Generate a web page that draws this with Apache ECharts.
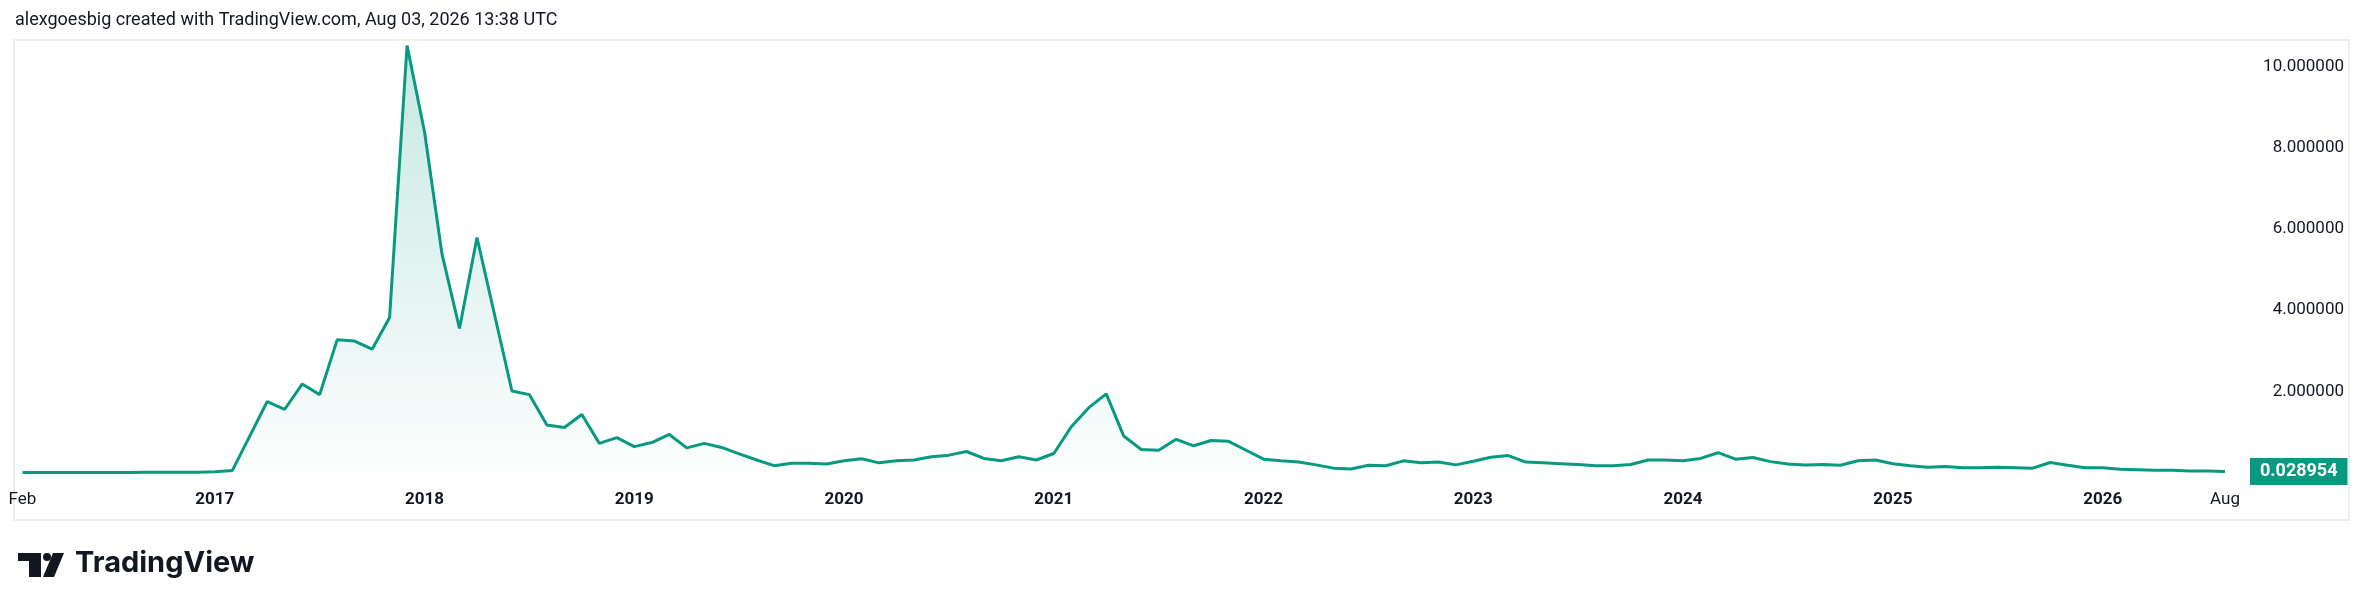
<!DOCTYPE html>
<html>
<head>
<meta charset="utf-8">
<script src="https://cdn.jsdelivr.net/npm/echarts@6/dist/echarts.min.js"></script>
<style>
html,body{margin:0;padding:0;background:#ffffff;}
#chart{width:2379px;height:611px;}
</style>
</head>
<body>
<div id="chart"></div>
<script>
// Monthly values, Feb 2016 .. Aug 2026
var values = [
  0.003, 0.003, 0.004, 0.004, 0.004, 0.005, 0.005, 0.006, 0.007, 0.008, 0.010,
  0.020, 0.05, 0.90, 1.75, 1.56, 2.18, 1.92, 3.27, 3.24, 3.04, 3.82,
  10.52, 8.39, 5.38, 3.55, 5.79, 3.90, 2.01, 1.92, 1.17, 1.11, 1.43, 0.72,
  0.86, 0.64, 0.74, 0.94, 0.61, 0.72, 0.62, 0.46, 0.31, 0.17, 0.23, 0.23,
  0.21, 0.29, 0.34, 0.24, 0.29, 0.31, 0.39, 0.43, 0.52, 0.35, 0.29, 0.39,
  0.31, 0.47, 1.13, 1.60, 1.94, 0.90, 0.57, 0.55, 0.82, 0.66, 0.79, 0.77,
  0.55, 0.33, 0.29, 0.26, 0.19, 0.11, 0.09, 0.18, 0.17, 0.29, 0.24, 0.26,
  0.19, 0.28, 0.38, 0.42, 0.26, 0.24, 0.22, 0.20, 0.17, 0.17, 0.20, 0.31,
  0.31, 0.29, 0.35, 0.49, 0.33, 0.37, 0.27, 0.21, 0.19, 0.20, 0.18, 0.29,
  0.31, 0.22, 0.17, 0.13, 0.15, 0.12, 0.12, 0.13, 0.12, 0.11, 0.25, 0.18,
  0.12, 0.12, 0.08, 0.07, 0.06, 0.06, 0.04, 0.04, 0.028954
];
var tickMonths = ['2016-02','2017-01','2018-01','2019-01','2020-01','2021-01','2022-01','2023-01','2024-01','2025-01','2026-01','2026-08'];
var tickTexts  = ['Feb','2017','2018','2019','2020','2021','2022','2023','2024','2025','2026','Aug'];
var yTicks = [2, 4, 6, 8, 10];
var titleText = 'alexgoesbig created with TradingView.com, Aug 03, 2026 13:38 UTC';

// month categories
var categories = [];
(function(){
  var y = 2016, m = 2;
  for (var i = 0; i < values.length; i++) {
    categories.push(y + '-' + (m < 10 ? '0' + m : '' + m));
    m++; if (m > 12) { m = 1; y++; }
  }
})();

var lastValue = values[values.length - 1];
var chart = echarts.init(document.getElementById('chart'), null, {renderer: 'canvas'});
var GREEN = '#089981';
var FONT = 'Roboto, "Liberation Sans", sans-serif';

var option = {
  backgroundColor: '#ffffff',
  animation: false,
  grid: {left: 22.5, right: 154, top: 40, bottom: 138.4, containLabel: false, outerBoundsMode: 'none'},
  xAxis: {
    type: 'category',
    data: categories,
    boundaryGap: false,
    axisLine: {show: false},
    axisTick: {show: false},
    splitLine: {show: false},
    axisLabel: {
      margin: 19,
      interval: function (idx, val) { return tickMonths.indexOf(val) >= 0; },
      formatter: function (val) {
        var k = tickMonths.indexOf(val);
        if (k < 0) return '';
        var t = tickTexts[k];
        return /^\d{4}$/.test(t) ? '{y|' + t + '}' : '{m|' + t + '}';
      },
      rich: {
        y: {fontFamily: FONT, fontSize: 17, fontWeight: 'bold', color: '#131722'},
        m: {fontFamily: FONT, fontSize: 17, color: '#131722'}
      }
    }
  },
  yAxis: {
    type: 'value',
    position: 'right',
    min: 0,
    max: 10.655,
    interval: 2,
    axisLine: {show: false},
    axisTick: {show: false},
    splitLine: {show: false},
    axisLabel: {
      margin: 119,
      align: 'right',
      fontFamily: FONT,
      fontSize: 17,
      color: '#131722',
      showMaxLabel: false,
      formatter: function (v) {
        return yTicks.indexOf(Math.round(v * 1000) / 1000) >= 0 ? v.toFixed(6) : '';
      }
    }
  },
  series: [{
    type: 'line',
    data: values,
    showSymbol: false,
    symbol: 'none',
    smooth: false,
    lineStyle: {color: GREEN, width: 3},
    areaStyle: {
      color: new echarts.graphic.LinearGradient(0, 0, 0, 1, [
        {offset: 0, color: 'rgba(8,153,129,0.32)'},
        {offset: 1, color: 'rgba(8,153,129,0.02)'}
      ])
    },
    markLine: {
      silent: true,
      symbol: 'none',
      precision: 6,
      lineStyle: {color: 'rgba(0,0,0,0)', width: 0},
      data: [{yAxis: lastValue}],
      label: {
        show: true,
        position: 'end',
        distance: 25,
        formatter: function () { return lastValue.toFixed(6); },
        backgroundColor: GREEN,
        color: '#ffffff',
        fontFamily: FONT,
        fontSize: 18,
        fontWeight: 'bold',
        padding: [5, 10, 4, 10]
      }
    }
  }],
  graphic: [
    {type: 'rect', shape: {x: 14, y: 40, width: 2335, height: 480}, style: {fill: 'none', stroke: '#eeeeee', lineWidth: 2}, z: -1, silent: true},
    {type: 'text', left: 15, top: 11, style: {text: titleText, fontFamily: FONT, fontSize: 18, fill: '#131722'}},
    {type: 'polygon', shape: {points: [[18,553],[41,553],[41,577],[29,577],[29,561],[18,561]]}, style: {fill: '#131722'}},
    {type: 'circle', shape: {cx: 47, cy: 557, r: 4}, style: {fill: '#131722'}},
    {type: 'polygon', shape: {points: [[53,553],[64,553],[54,577],[43,577]]}, style: {fill: '#131722'}},
    {type: 'text', left: 75, top: 549, style: {text: 'TradingView', fontFamily: 'Inter, Roboto, sans-serif', fontSize: 29, fontWeight: 'bold', fill: '#131722'}}
  ]
};
chart.setOption(option);
</script>
</body>
</html>
